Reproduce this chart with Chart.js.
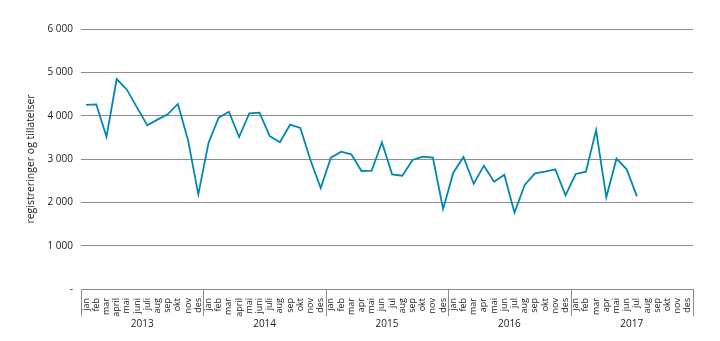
<!DOCTYPE html>
<html>
<head>
<meta charset="utf-8">
<script src="https://cdn.jsdelivr.net/npm/chart.js@4"></script>
<style>
  html, body { margin: 0; padding: 0; background: #fff; }
  #wrap { width: 720px; height: 341px; }
</style>
</head>
<body>
<div id="wrap"><canvas id="chart" width="720" height="341"></canvas></div>
<script>
// måneder - 2013 og 2014 har lange navn, fra 2015 korte
const monthsLong = ['jan', 'feb', 'mar', 'april', 'mai', 'juni', 'juli', 'aug', 'sep', 'okt', 'nov', 'des'];
const monthsShort = ['jan', 'feb', 'mar', 'apr', 'mai', 'jun', 'jul', 'aug', 'sep', 'okt', 'nov', 'des'];
const years = ['2013', '2014', '2015', '2016', '2017'];

const values2013 = [4250, 4260, 3515, 4846, 4600, 4185, 3777, 3908, 4030, 4270, 3430, 2185];
const values2014 = [3370, 3954, 4092, 3508, 4054, 4070, 3530, 3385, 3792, 3715, 2970, 2330];
const values2015 = [3030, 3170, 3108, 2723, 2730, 3385, 2646, 2615, 2977, 3054, 3030, 1846];
const values2016 = [2685, 3046, 2430, 2846, 2477, 2638, 1762, 2400, 2670, 2708, 2762, 2162];
const values2017 = [2654, 2708, 3669, 2115, 3008, 2762, 2138, null, null, null, null, null];

const yTicks = [0, 1000, 2000, 3000, 4000, 5000, 6000];

const labels = [
    ...monthsLong, ...monthsLong,
    ...monthsShort, ...monthsShort, ...monthsShort
];
const values = [...values2013, ...values2014, ...values2015, ...values2016, ...values2017];

const fontFamily = '"Open Sans", "Liberation Sans", sans-serif';

// årstall og skillelinjer under månedsetikettene
const yearPlugin = {
    id: 'yearLabels',
    afterDraw(chart) {
        const ctx = chart.ctx;
        const x = chart.scales.x;
        const bottom = chart.chartArea.bottom;
        const half = (x.getPixelForValue(1) - x.getPixelForValue(0)) / 2;
        ctx.save();
        ctx.strokeStyle = '#8c8c8c';
        ctx.lineWidth = 1;
        for (let i = 0; i <= years.length; i++) {
            const idx = Math.min(i * 12, labels.length - 1);
            let px = x.getPixelForValue(idx) - half;
            if (i * 12 >= labels.length) px = x.getPixelForValue(labels.length - 1) + half;
            px = Math.round(px) + 0.5;
            ctx.beginPath();
            ctx.moveTo(px, bottom);
            ctx.lineTo(px, bottom + 27);
            ctx.stroke();
        }
        ctx.fillStyle = '#1a1a1a';
        ctx.font = '10px ' + fontFamily;
        ctx.textAlign = 'center';
        ctx.textBaseline = 'middle';
        years.forEach((y, i) => {
            const a = x.getPixelForValue(i * 12);
            const b = x.getPixelForValue(i * 12 + 11);
            ctx.fillText(y, (a + b) / 2, bottom + 35);
        });
        ctx.restore();
    }
};

new Chart(document.getElementById('chart'), {
    type: 'line',
    data: {
        labels: labels,
        datasets: [{
            data: values,
            borderColor: '#0089b0',
            borderWidth: 1.8,
            pointRadius: 0,
            tension: 0,
            fill: false,
            spanGaps: false
        }]
    },
    options: {
        responsive: false,
        animation: false,
        layout: { padding: { left: 0, right: 27, top: 29, bottom: 0 } },
        plugins: {
            legend: { display: false },
            tooltip: { enabled: false }
        },
        scales: {
            x: {
                offset: true,
                afterFit: (s) => { s.height = 52; },
                grid: { display: false },
                border: { display: true, color: '#8c8c8c', width: 1 },
                ticks: {
                    autoSkip: false,
                    maxRotation: 90,
                    minRotation: 90,
                    padding: 1,
                    color: '#1a1a1a',
                    font: { family: fontFamily, size: 9 }
                }
            },
            y: {
                min: 0,
                max: 6000,
                afterFit: (s) => { s.width = 81; },
                afterBuildTicks: (s) => { s.ticks = yTicks.map(v => ({ value: v })); },
                grid: {
                    color: (c) => c.tick && c.tick.value === 0 ? 'rgba(0,0,0,0)' : '#8c8c8c',
                    lineWidth: 1,
                    drawTicks: false
                },
                border: { display: false },
                title: {
                    display: true,
                    text: 'registreringer og tillatelser',
                    color: '#1a1a1a',
                    font: { family: fontFamily, size: 10.5 },
                    padding: { top: 25, bottom: 0 }
                },
                ticks: {
                    padding: 8,
                    color: '#1a1a1a',
                    font: { family: fontFamily, size: 10 },
                    callback: (v) => v === 0 ? '-' : String(v).replace(/\B(?=(\d{3})+(?!\d))/g, ' ')
                }
            }
        }
    },
    plugins: [yearPlugin]
});
</script>
</body>
</html>
